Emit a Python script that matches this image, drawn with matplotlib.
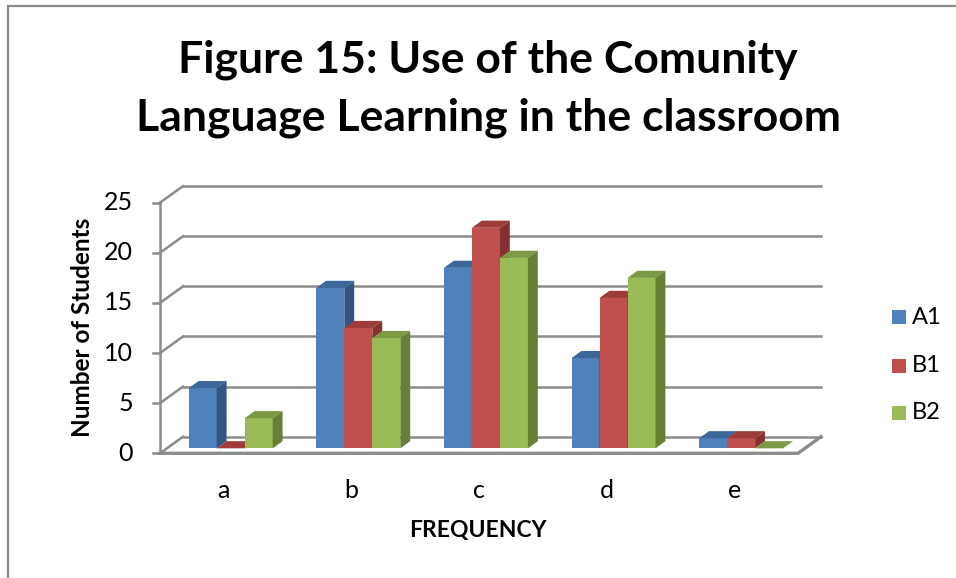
import matplotlib
matplotlib.use("Agg")
import matplotlib.pyplot as plt
from matplotlib.patches import Polygon, Rectangle
import numpy as np

categories = ["a", "b", "c", "d", "e"]
series_names = ["A1", "B1", "B2"]
a1 = [6, 16, 18, 9, 1]
b1 = [0, 12, 22, 15, 1]
b2 = [3, 11, 19, 17, 0]
y_ticks = [0, 5, 10, 15, 20, 25]

front_colors = ["#4F81BD", "#C0504D", "#9BBB59"]
top_colors = ["#3D679A", "#9D3C39", "#7C9A43"]
side_colors = ["#33557F", "#86312F", "#677F37"]
grid_color = "#8C8C8C"

plt.rcParams["font.family"] = ["Lato", "DejaVu Sans"]

W, H = 956, 578
fig = plt.figure(figsize=(W / 100, H / 100), dpi=100)


def fx(px):
    return px / W


def fy(py):
    return 1 - py / H


# front plane of the plot box in pixels
left, right, y0, y25 = 160, 798, 453.3, 202.7
ax = fig.add_axes([fx(left), fy(y0), fx(right - left), (y0 - y25) / H])
ax.set_xlim(-0.5, len(categories) - 0.5)
ax.set_ylim(0, 25)
ax.axis("off")

px_cat = (right - left) / len(categories)
px_val = (y0 - y25) / 25
DX = 23 / px_cat      # depth of the box
DY = 16.6 / px_val
xl, xr = -0.5, len(categories) - 0.5

# walls / grid
for t in y_ticks:
    ax.plot([xl + DX, xr + DX], [t + DY, t + DY], color=grid_color, lw=1.8,
            clip_on=False, zorder=1)
    ax.plot([xl, xl + DX], [t, t + DY], color=grid_color, lw=1.8,
            clip_on=False, zorder=1)
    ax.plot([xl - 7 / px_cat, xl], [t, t], color=grid_color, lw=1.8,
            clip_on=False, zorder=1)
    ax.text(xl - 27 / px_cat, t, str(t), ha="right", va="center",
            fontsize=18, color="black")
ax.plot([xl, xl], [0, 25], color=grid_color, lw=1.8, clip_on=False, zorder=1)
ax.plot([xl, xr, xr + DX], [0, 0, DY], color=grid_color, lw=2.4,
        clip_on=False, zorder=1)

# bars
w = 28 / px_cat
f0, fd = 0.3, 0.43
values = [a1, b1, b2]
x = np.arange(len(categories))
z = 3
for i in range(len(categories)):
    for k, vals in enumerate(values):
        v = vals[i]
        xc = x[i] + (k - 1) * w + f0 * DX
        b = f0 * DY
        x0, x1 = xc - w / 2, xc + w / 2
        ddx, ddy = fd * DX, fd * DY
        ax.bar(xc, v, width=w, bottom=b, color=front_colors[k], zorder=z,
               clip_on=False)
        top = Polygon([(x0, b + v), (x1, b + v), (x1 + ddx, b + v + ddy),
                       (x0 + ddx, b + v + ddy)], closed=True,
                      facecolor=top_colors[k], edgecolor="none", zorder=z,
                      clip_on=False)
        side = Polygon([(x1, b), (x1, b + v), (x1 + ddx, b + v + ddy),
                        (x1 + ddx, b + ddy)], closed=True,
                       facecolor=side_colors[k], edgecolor="none", zorder=z,
                       clip_on=False)
        ax.add_patch(top)
        ax.add_patch(side)
        z += 1

for i, c in enumerate(categories):
    ax.text(x[i], -(490 - y0) / px_val, c, ha="center", va="center",
            fontsize=18)

# labels and title
fig.text(fx(478), fy(530), "FREQUENCY", ha="center", va="center",
         fontsize=16.5, fontweight="bold")
fig.text(fx(83), fy(327), "Number of Students", ha="center", va="center",
         rotation=90, fontsize=17.5, fontweight="bold")
fig.text(fx(488), fy(72), "Figure 15: Use of the Comunity", ha="center",
         va="baseline", fontsize=32, fontweight="bold")
fig.text(fx(488), fy(130), "Language Learning in the classroom", ha="center",
         va="baseline", fontsize=32, fontweight="bold")

# legend
leg_y = [317, 366, 412.5]
for k, name in enumerate(series_names):
    fig.add_artist(Rectangle((fx(892), fy(leg_y[k] + 7)), fx(14), 14 / H,
                             transform=fig.transFigure,
                             facecolor=front_colors[k], edgecolor="none"))
    fig.text(fx(912), fy(leg_y[k]), name, ha="left", va="center",
             fontsize=17)

# chart border
fig.add_artist(Rectangle((fx(8), fy(H + 10)), fx(W), (H + 4) / H,
                         transform=fig.transFigure, fill=False,
                         edgecolor="#898989", lw=1.6, clip_on=False))

fig.savefig("out.png", dpi=100)
